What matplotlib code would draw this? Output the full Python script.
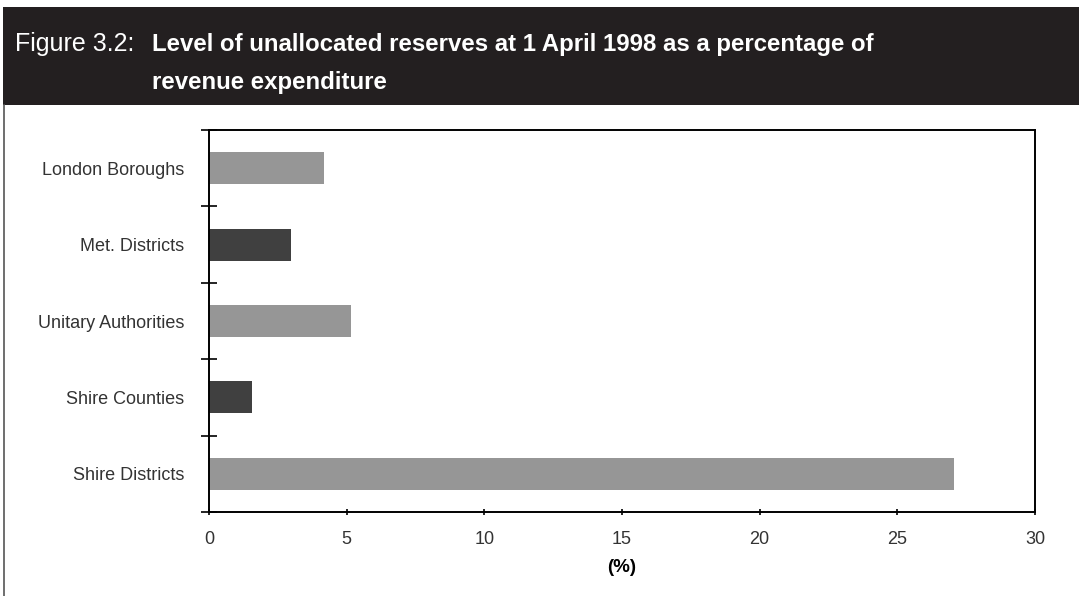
import numpy as np
import matplotlib.pyplot as plt
from matplotlib.lines import Line2D
from matplotlib.patches import Rectangle

categories = ["London Boroughs", "Met. Districts", "Unitary Authorities",
              "Shire Counties", "Shire Districts"]
values = [4.18, 2.98, 5.16, 1.56, 27.05]
colors = ["#969696", "#404040", "#969696", "#404040", "#969696"]
xticks = [0, 5, 10, 15, 20, 25, 30]

plt.rcParams["font.family"] = ["Liberation Sans", "DejaVu Sans"]

fig = plt.figure(figsize=(10.79, 5.96), dpi=100)

# header band and left frame line
fig.patches.append(Rectangle((3 / 1079, 1 - 105 / 596), 1 - 3 / 1079, 98 / 596,
                             transform=fig.transFigure, facecolor="#231f20",
                             edgecolor="none", zorder=0))
fig.lines.append(Line2D([3.5 / 1079, 3.5 / 1079], [0, 1 - 105 / 596],
                        transform=fig.transFigure, color="#555555", lw=1.2))
fig.text(15 / 1079, 1 - 44 / 596, "Figure 3.2:", color="white", fontsize=18,
         va="center", ha="left")
fig.text(152 / 1079, 1 - 44 / 596,
         "Level of unallocated reserves at 1 April 1998 as a percentage of",
         color="white", fontsize=17.3, fontweight="bold", va="center", ha="left")
fig.text(152 / 1079, 1 - 83 / 596, "revenue expenditure", color="white",
         fontsize=17.3, fontweight="bold", va="center", ha="left")

ax = fig.add_axes([209 / 1079, 1 - 512 / 596, 826 / 1079, 382 / 596])
y = np.arange(len(categories))
ax.barh(y, values, height=0.42, color=colors)
ax.set_ylim(len(categories) - 0.5, -0.5)
ax.set_xlim(0, 30)

ax.set_yticks(y)
ax.set_yticklabels(categories, fontsize=13, color="#333333")
ax.tick_params(axis="y", which="major", length=0, pad=18)
ax.set_yticks(np.arange(-0.5, len(categories), 1), minor=True)
ax.tick_params(axis="y", which="minor", length=12, direction="inout", width=1.2)

ax.set_xticks(xticks)
ax.set_xticklabels([str(t) for t in xticks], fontsize=13, color="#333333")
ax.tick_params(axis="x", length=5, direction="inout", width=1.2, pad=11)
ax.set_xlabel("(%)", fontsize=13.5, fontweight="bold", labelpad=8)

for s in ax.spines.values():
    s.set_linewidth(1.4)
    s.set_color("black")

fig.savefig("out.png", dpi=100)
